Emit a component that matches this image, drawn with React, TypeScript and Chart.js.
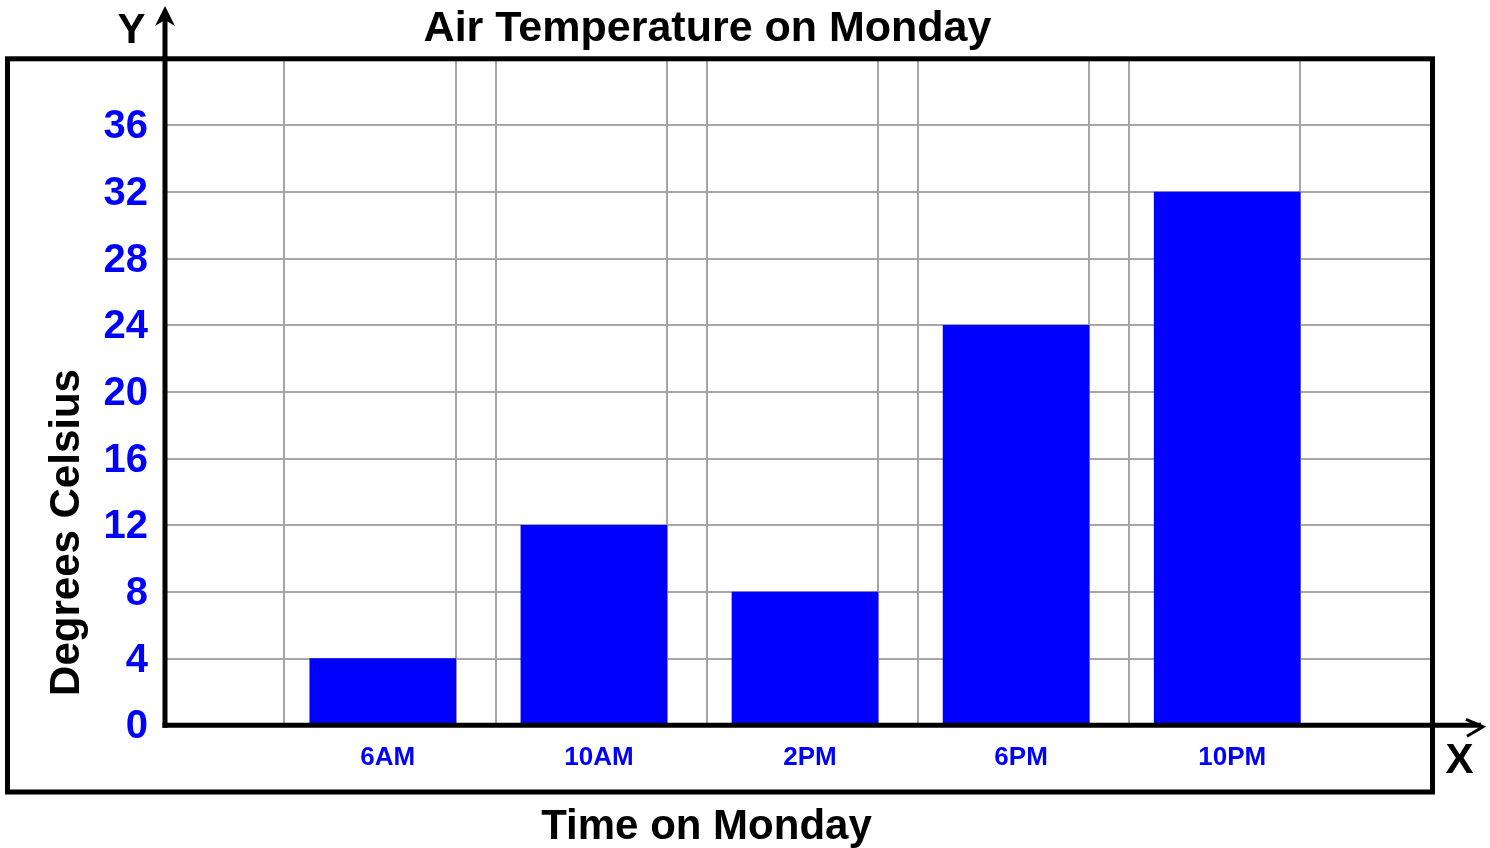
import React, { useEffect, useRef } from 'react';
import { Chart, registerables } from 'chart.js';

Chart.register(...registerables);

// ---------- data ----------
const chartTitle = 'Air Temperature on Monday';
const xAxisTitle = 'Time on Monday';
const yAxisTitle = 'Degrees Celsius';
const categories = ['6AM', '10AM', '2PM', '6PM', '10PM'];
const temperatures = [4, 12, 8, 24, 32];
const yTickValues = [0, 4, 8, 12, 16, 20, 24, 28, 32, 36];
const yMax = 40;

// ---------- style / layout ----------
const FONT_FAMILY = '"Liberation Sans", Arial, Helvetica, sans-serif';
const BLUE = '#0000ff';
const GRID = '#a6a6a6';
const X_MIN = -1.0317;
const X_MAX = 4.9726;
const GRID_LEFT_OFFSET = -0.466;
const GRID_RIGHT_OFFSET = 0.3455;

const xTickValues: number[] = [];
categories.forEach((_, i) => {
  xTickValues.push(i + GRID_LEFT_OFFSET, i, i + GRID_RIGHT_OFFSET);
});

const decorPlugin = {
  id: 'decor',
  afterDraw(chart: any) {
    const ctx = chart.ctx as CanvasRenderingContext2D;
    const { left, top, right, bottom } = chart.chartArea;
    ctx.save();
    ctx.strokeStyle = '#000';
    ctx.fillStyle = '#000';
    ctx.lineCap = 'butt';
    // outer frame
    ctx.lineWidth = 5;
    ctx.strokeRect(7.5, top, right - 7.5, 792 - top);
    // x axis
    ctx.beginPath();
    ctx.moveTo(left - 2.5, bottom);
    ctx.lineTo(1481, bottom);
    ctx.stroke();
    ctx.lineWidth = 3;
    ctx.beginPath();
    ctx.moveTo(1466, bottom - 6);
    ctx.lineTo(1483, bottom + 1.5);
    ctx.lineTo(1467, bottom + 11);
    ctx.stroke();
    // y axis
    ctx.lineWidth = 5;
    ctx.beginPath();
    ctx.moveTo(left, bottom + 2.5);
    ctx.lineTo(left, 20);
    ctx.stroke();
    ctx.beginPath();
    ctx.moveTo(left, 6);
    ctx.lineTo(left + 10, 26);
    ctx.lineTo(left, 20);
    ctx.lineTo(left - 10, 26);
    ctx.closePath();
    ctx.fill();
    // texts
    ctx.textBaseline = 'alphabetic';
    ctx.textAlign = 'center';
    ctx.font = `bold 43px ${FONT_FAMILY}`;
    ctx.fillText(chartTitle, 707.5, 41);
    ctx.font = `bold 42px ${FONT_FAMILY}`;
    ctx.fillText(xAxisTitle, 706.5, 839);
    ctx.fillText('Y', 131.5, 43);
    ctx.fillText('X', 1459.5, 773);
    ctx.save();
    ctx.translate(79, 532.5);
    ctx.rotate(-Math.PI / 2);
    ctx.fillText(yAxisTitle, 0, 0);
    ctx.restore();
    ctx.restore();
  },
};

export default function App() {
  const ref = useRef<HTMLCanvasElement>(null);
  useEffect(() => {
    document.body.style.margin = '0';
    const canvas = ref.current!;
    const chart = new Chart(canvas, {
      type: 'bar',
      data: {
        datasets: [
          {
            label: 'Temperature',
            data: categories.map((_, i) => ({ x: i, y: temperatures[i] })),
            backgroundColor: BLUE,
            borderWidth: 0,
            barThickness: 146,
          },
        ],
      },
      options: {
        animation: false,
        responsive: false,
        devicePixelRatio: 1,
        layout: { padding: { top: 58.8, right: 57.5, bottom: 0, left: 0 } },
        plugins: {
          legend: { display: false },
          tooltip: { enabled: false },
          title: { display: false },
        },
        scales: {
          x: {
            type: 'linear',
            min: X_MIN,
            max: X_MAX,
            bounds: 'data',
            offset: false,
            afterBuildTicks: (scale: any) => {
              scale.ticks = xTickValues.map((v) => ({ value: v }));
            },
            afterFit: (scale: any) => {
              scale.height = 122.7;
            },
            grid: {
              offset: false,
              color: GRID,
              lineWidth: (c: any) => (c.tick && Number.isInteger(c.tick.value) ? 0 : 2),
              drawTicks: false,
            },
            border: { display: false },
            ticks: {
              autoSkip: false,
              maxRotation: 0,
              minRotation: 0,
              padding: 17,
              labelOffset: 5,
              color: BLUE,
              font: { family: FONT_FAMILY, size: 26, weight: 'bold' },
              callback: (value: any) =>
                Number.isInteger(value) ? categories[value] ?? '' : '',
            },
          },
          y: {
            type: 'linear',
            min: 0,
            max: yMax,
            bounds: 'data',
            afterBuildTicks: (scale: any) => {
              scale.ticks = yTickValues.map((v) => ({ value: v }));
            },
            afterFit: (scale: any) => {
              scale.width = 165;
            },
            grid: { color: GRID, lineWidth: 2, drawTicks: false },
            border: { display: false },
            ticks: {
              color: BLUE,
              padding: 17,
              labelOffset: 2,
              font: { family: FONT_FAMILY, size: 40, weight: 'bold' },
              callback: (value: any) => String(value),
            },
          },
        },
      },
      plugins: [decorPlugin],
    } as any);
    return () => chart.destroy();
  }, []);
  return (
    <div style={{ position: 'relative', width: 1490, height: 848 }}>
      <canvas ref={ref} width={1490} height={848} style={{ display: 'block' }} />
    </div>
  );
}
